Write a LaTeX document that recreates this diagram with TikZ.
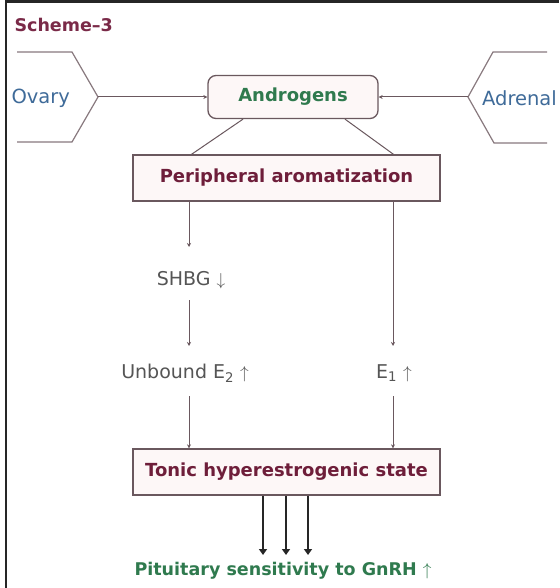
\documentclass[tikz,border=0pt]{standalone}
\usepackage{fontspec}
\setmainfont{DejaVu Sans}
\usetikzlibrary{arrows.meta}
\definecolor{maroon}{HTML}{7A2A48}
\definecolor{boxtxt}{HTML}{6E1E3A}
\definecolor{grn}{HTML}{2F7A4E}
\definecolor{blu}{HTML}{3F6B99}
\definecolor{gtxt}{HTML}{555555}
\definecolor{lne}{HTML}{6A585E}
\definecolor{boxfill}{HTML}{FDF7F7}
\tikzset{
  box/.style={draw=lne, line width=1.3pt, fill=boxfill, minimum width=307pt, minimum height=46pt, font=\fontsize{18}{20}\selectfont\bfseries, text=boxtxt},
  rbox/.style={draw=lne, line width=1.3pt, fill=boxfill, rounded corners=8pt, minimum width=170pt, minimum height=43pt, font=\fontsize{18}{20}\selectfont\bfseries, text=grn},
  lbl/.style={font=\fontsize{19}{21}\selectfont, text=gtxt},
  side/.style={font=\fontsize{19.5}{21}\selectfont, text=blu},
  conn/.style={draw=lne, line width=1pt, -{Stealth[length=4pt,width=4pt]}},
  plain/.style={draw=lne, line width=1pt},
  chev/.style={draw=lne!80, line width=1.2pt},
  thick arrow/.style={draw=black!85, line width=2.4pt, -{Triangle[length=6pt,width=8pt]}}
}
\begin{document}
\begin{tikzpicture}[x=1pt,y=-1pt]
\useasboundingbox (0,0) rectangle (559,588);
\fill[white] (0,0) rectangle (559,588);
% frame (top and left)
\draw[black!85, line width=2.5pt] (6,588) -- (6,1.5) -- (559,1.5);
% title
\node[anchor=west, font=\fontsize{17.5}{19}\selectfont\bfseries, text=maroon] (title) at (11,25) {Scheme–3};
% chevrons
\draw[chev] (17,52) -- (72,52) -- (98,97) -- (72,142) -- (17,142);
\draw[chev] (547,52) -- (493,52) -- (468,97) -- (494,143) -- (547,143);
\coordinate (ovtip) at (98,97);
\coordinate (adtip) at (468,97);
\node[side, anchor=west] (ovary) at (8,98) {Ovary};
\node[side, anchor=east, inner xsep=0pt] (adrenal) at (557,98) {Adrenal};
% boxes
\node[rbox] (andro) at (293,97) {Androgens};
\node[box] (peri) at (286.5,178) {Peripheral aromatization};
\node[box] (tonic) at (286.5,472) {Tonic hyperestrogenic state};
% labels
\node[lbl] (shbg) at (191,280) {SHBG $\downarrow$};
\node[lbl] (unb) at (185,373) {Unbound E\textsubscript{2} $\uparrow$};
\node[lbl] (e1) at (394,373) {E\textsubscript{1} $\uparrow$};
\node[font=\fontsize{17.5}{19}\selectfont\bfseries, text=grn] (pit) at (283,571) {Pituitary sensitivity to GnRH $\uparrow$};
% connectors
\draw[conn] (ovtip) -- (andro.west);
\draw[conn] (adtip) -- (andro.east);
\draw[plain] ([xshift=-50pt]andro.south) -- ([xshift=-95pt]peri.north);
\draw[plain] ([xshift=52pt]andro.south) -- ([xshift=107pt]peri.north);
\draw[conn] (peri.south -| 189,0) -- (189,247);
\draw[conn] (189,300) -- (189,346);
\draw[conn] (189,396) -- (tonic.north -| 189,0);
\draw[conn] (peri.south -| 393,0) -- (393,346);
\draw[conn] (393,396) -- (tonic.north -| 393,0);
\draw[thick arrow] (tonic.south -| 263,0) -- (263,555);
\draw[thick arrow] (tonic.south -| 286,0) -- (286,555);
\draw[thick arrow] (tonic.south -| 308,0) -- (308,555);
\end{tikzpicture}
\end{document}
